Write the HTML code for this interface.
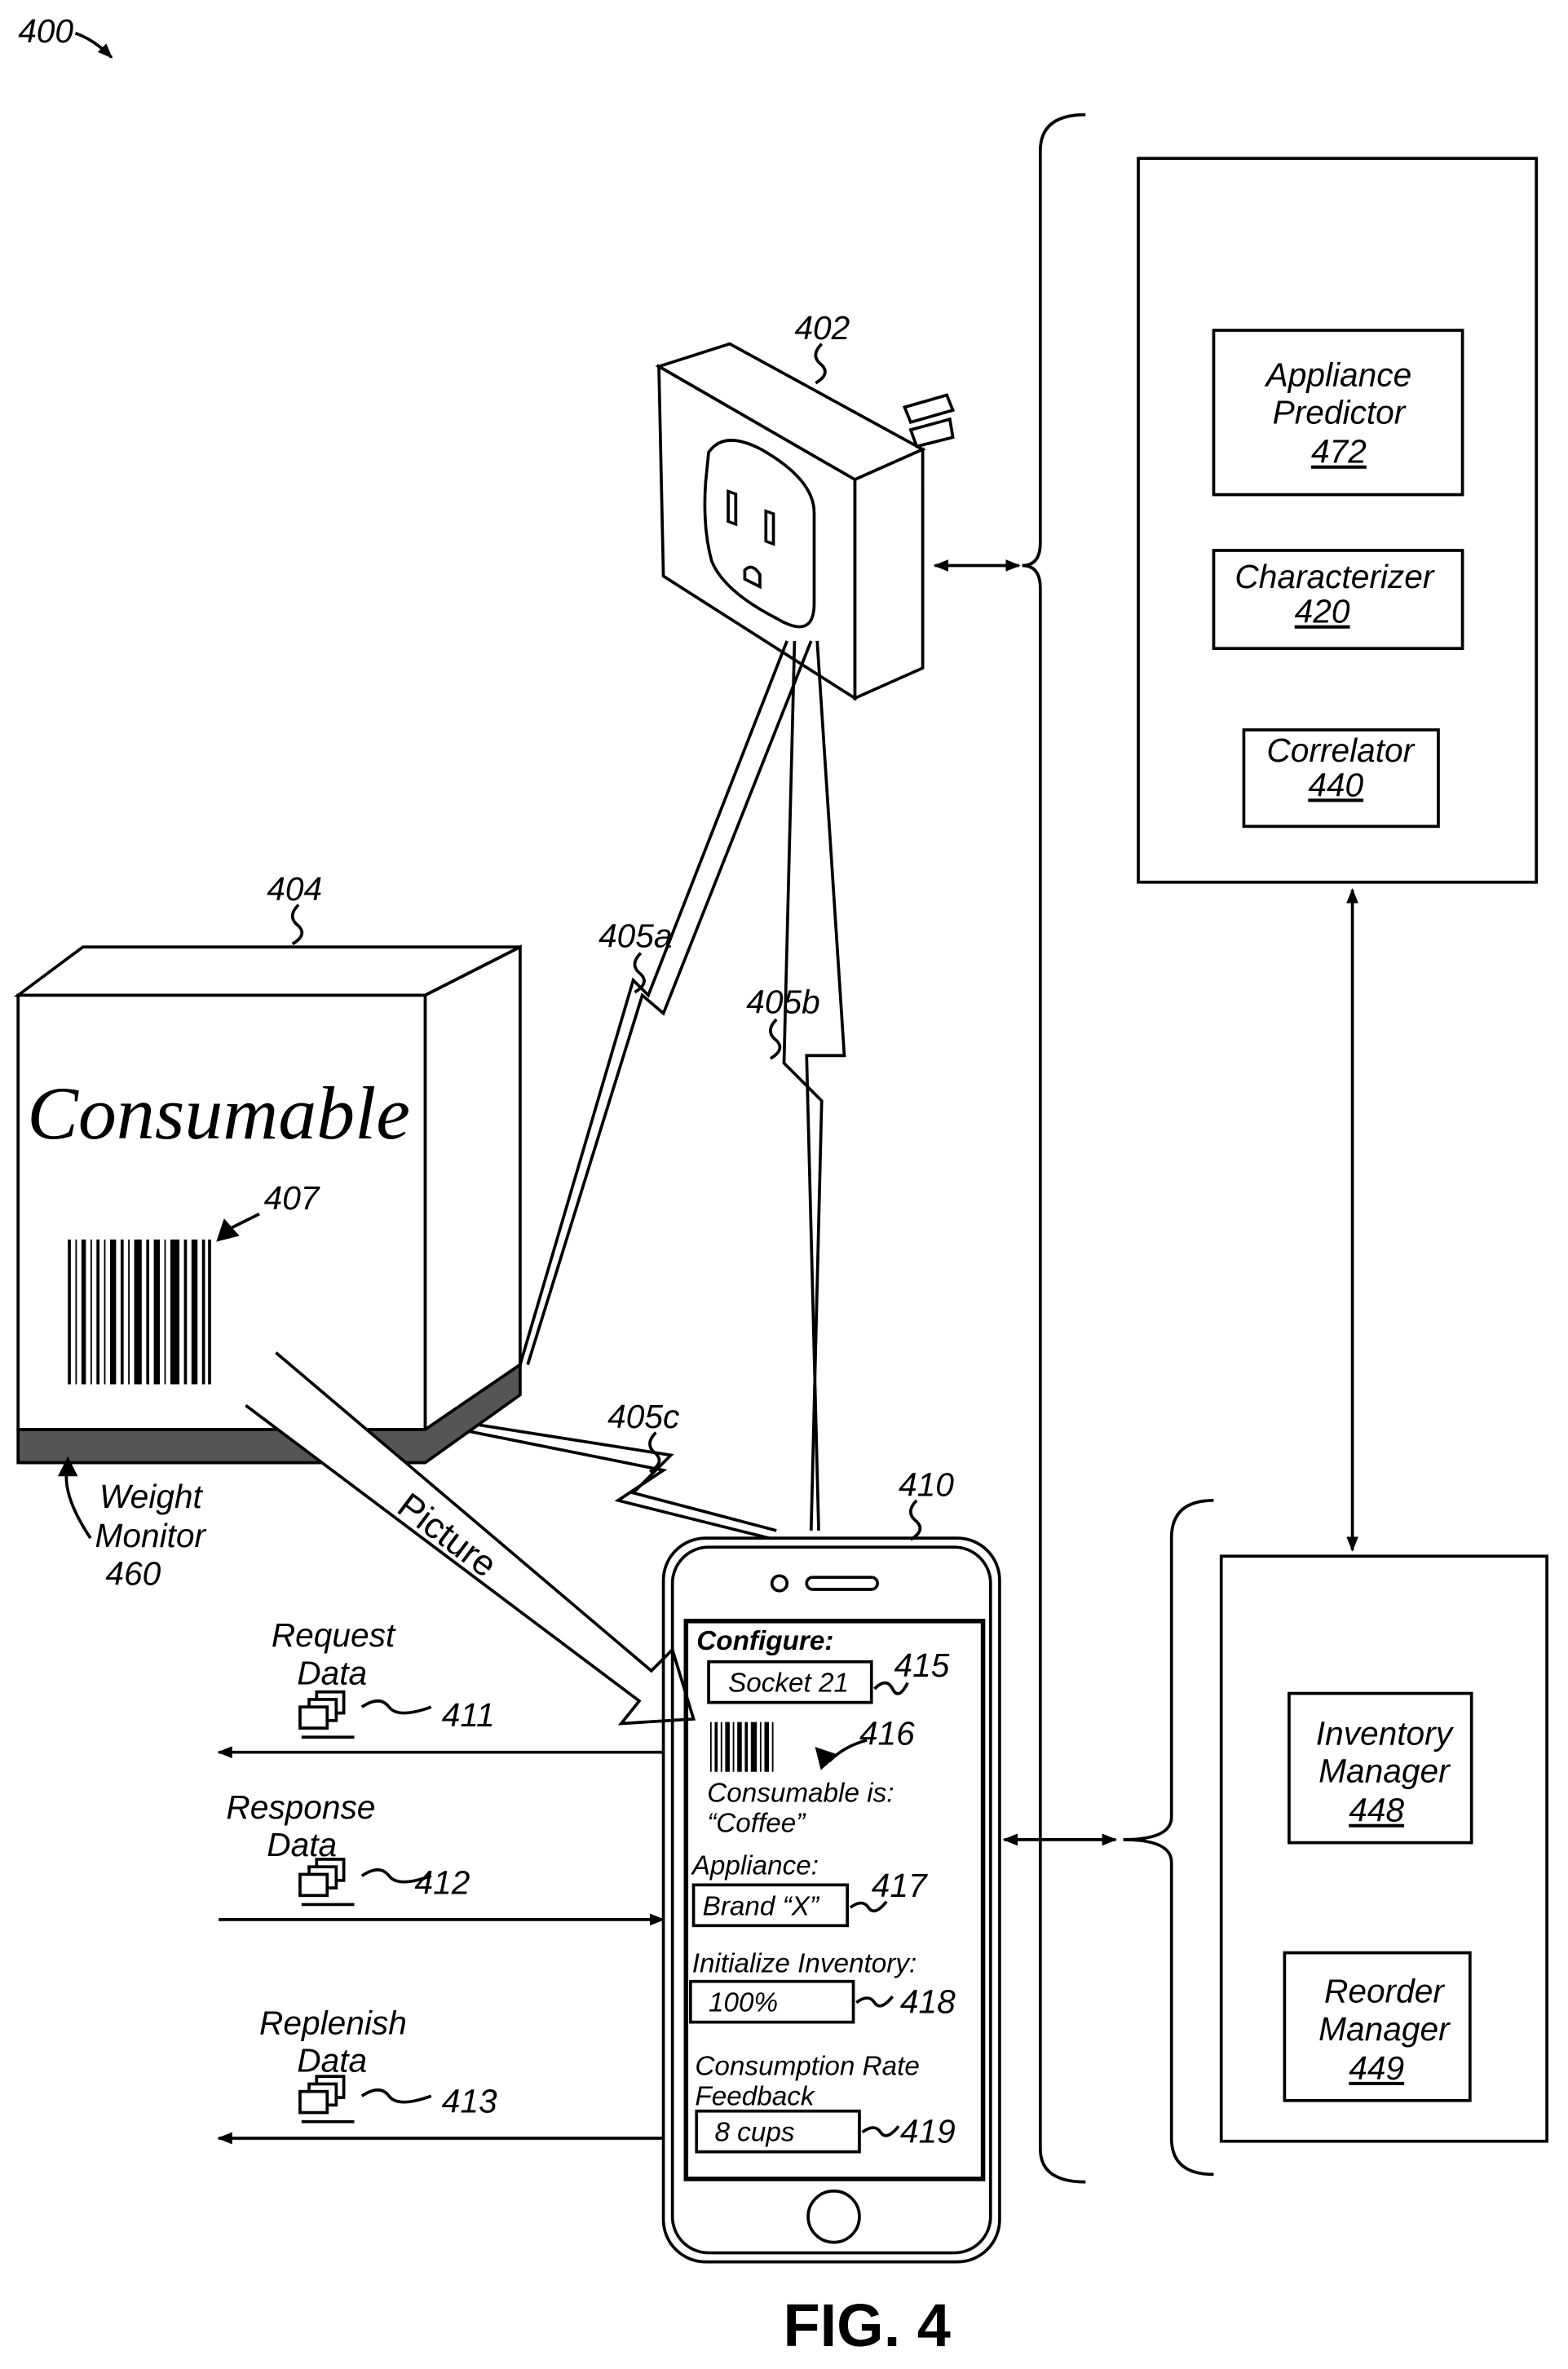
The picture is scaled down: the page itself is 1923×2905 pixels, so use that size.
<!DOCTYPE html>
<html><head><meta charset="utf-8"><style>
html,body{margin:0;padding:0;background:#fff;}
svg{display:block;}
text{font-family:"Liberation Sans",sans-serif;font-style:italic;fill:#000;}
</style></head><body>
<svg width="1923" height="2905" viewBox="0 0 1040 1571" xmlns="http://www.w3.org/2000/svg">
<defs>
<marker id="ah" markerWidth="10" markerHeight="8" refX="9" refY="4" orient="auto" markerUnits="userSpaceOnUse"><path d="M0,0 L10,4 L0,8 Z" fill="#000"/></marker>
<marker id="as" markerWidth="10" markerHeight="8" refX="1" refY="4" orient="auto" markerUnits="userSpaceOnUse"><path d="M10,0 L0,4 L10,8 Z" fill="#000"/></marker>
</defs>
<g fill="none" stroke="#000" stroke-width="2">
<path d="M50,22 Q62,26 74,38" marker-end="url(#ah)"/>
<rect x="755" y="105" width="264" height="480"/>
<rect x="805" y="219" width="165" height="109"/>
<rect x="805" y="365" width="165" height="65"/>
<rect x="825" y="484" width="129" height="64"/>
<path d="M720,76 Q690,76 690,100 L690,360 Q690,375 678,375 Q690,375 690,390 L690,1425 Q690,1447 720,1447"/>
<line x1="620" y1="375" x2="676" y2="375" marker-start="url(#as)" marker-end="url(#ah)"/>
<line x1="897" y1="590" x2="897" y2="1028" marker-start="url(#as)" marker-end="url(#ah)"/>
<rect x="810" y="1032" width="216" height="388"/>
<rect x="855" y="1123" width="121" height="99"/>
<rect x="852" y="1295" width="123" height="98"/>
<path d="M805,995 Q777,995 777,1020 L777,1205 Q777,1220 745,1220 Q777,1220 777,1235 L777,1418 Q777,1442 805,1442"/>
<line x1="666" y1="1220" x2="740" y2="1220" marker-start="url(#as)" marker-end="url(#ah)"/>
<path d="M437,243 L484,228 L612,298 L567,318 Z" fill="#fff"/>
<path d="M567,318 L612,298 L612,443 L567,463 Z" fill="#fff"/>
<path d="M437,243 L567,318 L567,463 L440,382 Z" fill="#fff"/>
<path d="M600,270 L628,262 L632,272 L604,280 Z M604,285 L630,278 L632,290 L608,296 Z" fill="#fff"/>
<path d="M470,300 Q480,285 505,298 Q540,318 540,340 L540,400 Q540,425 515,410 Q480,392 472,372 Q466,350 468,320 Z"/>
<rect x="483" y="325" width="5" height="20" transform="skewY(20) translate(0,-175)"/>
<rect x="508" y="338" width="5" height="20" transform="skewY(20) translate(0,-184)"/>
<path d="M494,378 q5,-5 10,3 l0,8 l-10,-5 Z"/>
<path d="M522,425 L430,660 L420,650 L345,905"/>
<path d="M538,425 L440,672 L426,660 L350,905"/>
<path d="M527,425 L520,705 L545,730 L538,1015"/>
<path d="M542,425 L560,700 L535,700 L543,1015"/>
<path d="M305,948 L440,975 L410,995 L510,1020"/>
<path d="M318,945 L445,965 L420,990 L515,1015"/>
<path d="M12,660 L55,628 L345,628 L282,660 Z" fill="#fff"/>
<path d="M282,660 L345,628 L345,905 L282,948 Z" fill="#fff"/>
<rect x="12" y="660" width="270" height="288" fill="#fff"/>
<path d="M12,948 L282,948 L345,905 L345,925 L282,970 L12,970 Z" fill="#555"/>
<path d="M183,897 L432,1108 L446,1094 L460,1140 L412,1143 L424,1128 L163,932" fill="#fff"/>
<rect x="440" y="1020" width="223" height="480" rx="28"/>
<rect x="446" y="1026" width="211" height="468" rx="24"/>
<rect x="455" y="1075" width="197" height="370" stroke-width="3"/>
<circle cx="517" cy="1050" r="5"/>
<rect x="535" y="1046" width="47" height="8" rx="4"/>
<circle cx="553" cy="1470" r="17"/>
<rect x="470" y="1102" width="108" height="27"/>
<rect x="460" y="1250" width="102" height="27"/>
<rect x="458" y="1314" width="108" height="27"/>
<rect x="462" y="1400" width="108" height="27"/>
<path d="M580,1120 q8,-8 12,0 q4,8 10,-4"/>
<path d="M564,1265 q8,-6 12,0 q4,6 12,-4"/>
<path d="M568,1328 q8,-6 12,0 q4,6 12,-4"/>
<path d="M572,1414 q8,-6 12,0 q4,6 12,-4"/>
<path d="M575,1154 Q560,1158 550,1168"/>
<path d="M545,1172 l-3,-12 l12,4 Z" fill="#000"/>
<line x1="440" y1="1162" x2="145" y2="1162" marker-end="url(#ah)"/>
<line x1="145" y1="1273" x2="440" y2="1273" marker-end="url(#ah)"/>
<line x1="440" y1="1418" x2="145" y2="1418" marker-end="url(#ah)"/>
<g fill="#fff">
<rect x="210" y="1122" width="18" height="14"/><rect x="205" y="1127" width="18" height="14"/><rect x="199" y="1132" width="18" height="14"/>
<rect x="210" y="1233" width="18" height="14"/><rect x="205" y="1238" width="18" height="14"/><rect x="199" y="1243" width="18" height="14"/>
<rect x="210" y="1377" width="18" height="14"/><rect x="205" y="1382" width="18" height="14"/><rect x="199" y="1387" width="18" height="14"/>
</g>
<line x1="200" y1="1152" x2="235" y2="1152"/><line x1="200" y1="1263" x2="235" y2="1263"/><line x1="200" y1="1407" x2="235" y2="1407"/>
<path d="M240,1132 q12,-8 18,0 q6,8 28,0"/>
<path d="M240,1244 q12,-8 18,0 q6,8 28,0"/>
<path d="M240,1390 q12,-8 18,0 q6,8 28,0"/>
<path d="M545,228 q-8,8 0,14 q6,6 -4,12"/>
<path d="M198,600 q-8,8 0,14 q6,6 -4,12"/>
<path d="M425,632 q-8,8 0,14 q6,6 -4,12"/>
<path d="M515,676 q-8,8 0,14 q6,6 -4,12"/>
<path d="M435,950 q-8,8 0,14 q6,6 -4,12"/>
<path d="M608,995 q-8,8 0,14 q6,6 -4,12"/>
<path d="M172,805 L152,815"/><path d="M145,822 l4,-12 l8,9 Z" fill="#000"/>
<path d="M60,1020 Q40,990 45,972"/><path d="M45,968 l-5,10 l10,0 Z" fill="#000"/>
</g>
<g fill="#000">
<rect x="45" y="822" width="2" height="96"/><rect x="50" y="822" width="1" height="96"/><rect x="54" y="822" width="3" height="96"/><rect x="60" y="822" width="1" height="96"/><rect x="64" y="822" width="2" height="96"/><rect x="69" y="822" width="1" height="96"/><rect x="73" y="822" width="4" height="96"/><rect x="80" y="822" width="2" height="96"/><rect x="85" y="822" width="1" height="96"/><rect x="89" y="822" width="5" height="96"/><rect x="97" y="822" width="2" height="96"/><rect x="102" y="822" width="4" height="96"/><rect x="109" y="822" width="1" height="96"/><rect x="113" y="822" width="6" height="96"/><rect x="122" y="822" width="2" height="96"/><rect x="127" y="822" width="4" height="96"/><rect x="134" y="822" width="2" height="96"/><rect x="138" y="822" width="2" height="96"/>
<rect x="471" y="1142" width="1" height="33"/><rect x="474" y="1142" width="2" height="33"/><rect x="478" y="1142" width="1" height="33"/><rect x="481" y="1142" width="3" height="33"/><rect x="486" y="1142" width="1" height="33"/><rect x="489" y="1142" width="3" height="33"/><rect x="494" y="1142" width="2" height="33"/><rect x="498" y="1142" width="4" height="33"/><rect x="504" y="1142" width="1" height="33"/><rect x="507" y="1142" width="3" height="33"/><rect x="512" y="1142" width="1" height="33"/>
</g>
<g font-size="22">
<text x="12" y="28">400</text>
<text x="888" y="256" text-anchor="middle">Appliance</text>
<text x="888" y="281" text-anchor="middle">Predictor</text>
<text x="888" y="307" text-anchor="middle" text-decoration="underline">472</text>
<text x="885" y="390" text-anchor="middle">Characterizer</text>
<text x="877" y="413" text-anchor="middle" text-decoration="underline">420</text>
<text x="889" y="505" text-anchor="middle">Correlator</text>
<text x="886" y="528" text-anchor="middle" text-decoration="underline">440</text>
<text x="918" y="1157" text-anchor="middle">Inventory</text>
<text x="918" y="1182" text-anchor="middle">Manager</text>
<text x="913" y="1208" text-anchor="middle" text-decoration="underline">448</text>
<text x="918" y="1328" text-anchor="middle">Reorder</text>
<text x="918" y="1353" text-anchor="middle">Manager</text>
<text x="913" y="1379" text-anchor="middle" text-decoration="underline">449</text>
<text x="527" y="225">402</text>
<text x="177" y="597">404</text>
<text x="397" y="628">405a</text>
<text x="495" y="672">405b</text>
<text x="403" y="947">405c</text>
<text x="596" y="992">410</text>
<text x="175" y="802">407</text>
<text x="66" y="1000">Weight</text>
<text x="63" y="1026">Monitor</text>
<text x="70" y="1051">460</text>
<text x="180" y="1092">Request</text>
<text x="197" y="1117">Data</text>
<text x="150" y="1206">Response</text>
<text x="177" y="1231">Data</text>
<text x="172" y="1349">Replenish</text>
<text x="197" y="1374">Data</text>
<text x="293" y="1145">411</text>
<text x="275" y="1256">412</text>
<text x="293" y="1401">413</text>
<text x="593" y="1112">415</text>
<text x="570" y="1157">416</text>
<text x="578" y="1258">417</text>
<text x="597" y="1335">418</text>
<text x="597" y="1421">419</text>
</g>
<text x="262" y="1002" font-size="24" style="font-style:normal" transform="rotate(37 262 1002)">Picture</text>
<text x="18" y="755" font-size="50" textLength="254" lengthAdjust="spacingAndGlyphs" style="font-family:'Liberation Serif',serif;font-style:italic">Consumable</text>
<g font-size="18">
<text x="462" y="1094" font-weight="bold">Configure:</text>
<text x="483" y="1122">Socket 21</text>
<text x="469" y="1195">Consumable is:</text>
<text x="469" y="1215">“Coffee”</text>
<text x="459" y="1243">Appliance:</text>
<text x="466" y="1270">Brand “X”</text>
<text x="459" y="1308">Initialize Inventory:</text>
<text x="470" y="1334">100%</text>
<text x="461" y="1376">Consumption Rate</text>
<text x="461" y="1396">Feedback</text>
<text x="474" y="1420">8 cups</text>
</g>
<text x="575" y="1556" font-size="40" font-weight="bold" text-anchor="middle" style="font-style:normal">FIG. 4</text>
</svg>
</body></html>
